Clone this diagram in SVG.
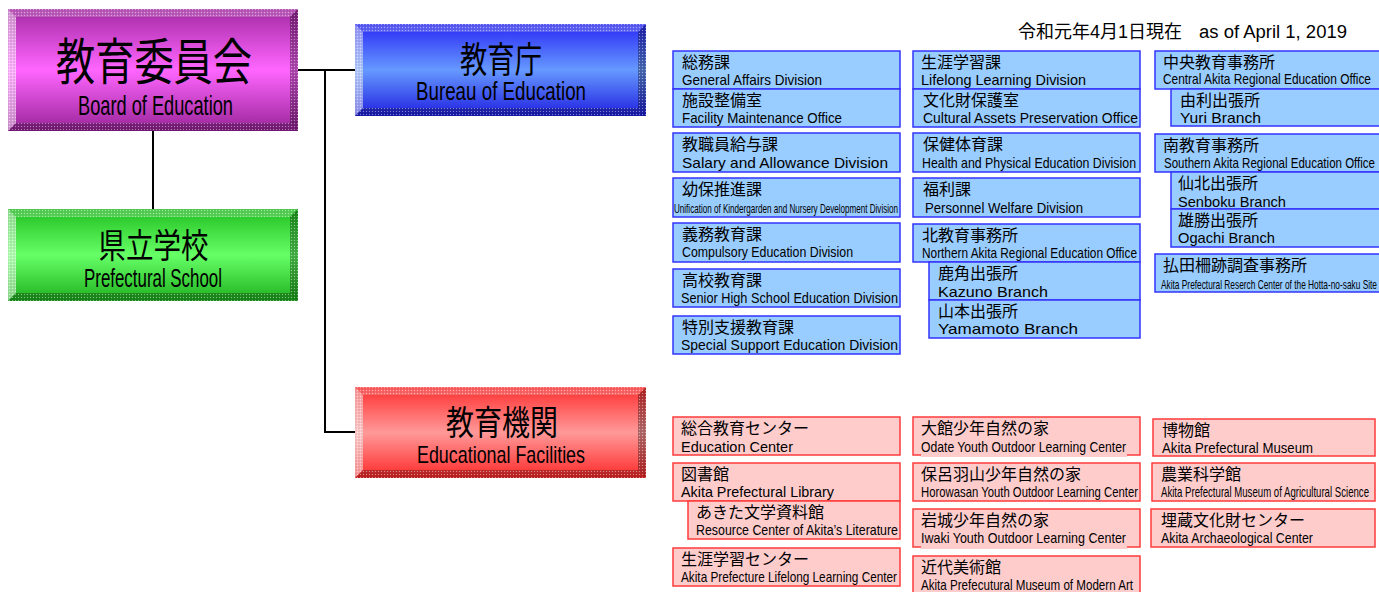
<svg xmlns="http://www.w3.org/2000/svg" width="1379" height="592" viewBox="0 0 1379 592">
<defs>
<style>
.sb{fill:#99ccff;stroke:#3333ff;stroke-width:1.5}
.sr{fill:#ffcccc;stroke:#ff3b3b;stroke-width:1.5}
.jp{font-family:"Noto Sans CJK JP","Noto Sans CJK SC",sans-serif;font-size:16px;fill:#000}
.en{font-family:"Liberation Sans",Arial,sans-serif;font-size:15px;fill:#000}
.ens{font-family:"Liberation Sans",Arial,sans-serif;font-size:13px;fill:#000}
.bj{font-family:"Noto Sans CJK JP","Noto Sans CJK SC",sans-serif;fill:#000;text-anchor:middle}
.be{font-family:"Liberation Sans",Arial,sans-serif;fill:#000;text-anchor:middle}
.conn{stroke:#000;stroke-width:2;fill:none}
.bl{fill:#fff;fill-opacity:.5}
.bt{fill:#fff;fill-opacity:.22}
.br{fill:#000;fill-opacity:.3}
.bb{fill:#000;fill-opacity:.25}
.dz{fill:url(#dither)}
.date{font-family:"Liberation Sans",Arial,"Noto Sans CJK JP",sans-serif;font-size:18px;fill:#000}
</style>
<pattern id="dither" width="3" height="3" patternUnits="userSpaceOnUse">
<rect x="0" y="0" width="1" height="1" fill="#fff" fill-opacity=".45"/>
<rect x="1.5" y="1.5" width="1" height="1" fill="#000" fill-opacity=".25"/>
</pattern>
<linearGradient id="gP" x1="0" y1="0" x2="0" y2="1">
<stop offset="0" stop-color="#a52aa5"/><stop offset="0.5" stop-color="#ff66ff"/><stop offset="1" stop-color="#9a249a"/>
</linearGradient>
<linearGradient id="gG" x1="0" y1="0" x2="0" y2="1">
<stop offset="0" stop-color="#22c022"/><stop offset="0.5" stop-color="#66ff66"/><stop offset="1" stop-color="#1fb21f"/>
</linearGradient>
<linearGradient id="gB" x1="0" y1="0" x2="0" y2="1">
<stop offset="0" stop-color="#2a2af5"/><stop offset="0.5" stop-color="#6699ff"/><stop offset="1" stop-color="#2020e0"/>
</linearGradient>
<linearGradient id="gR" x1="0" y1="0" x2="0" y2="1">
<stop offset="0" stop-color="#ff3030"/><stop offset="0.5" stop-color="#ff9999"/><stop offset="1" stop-color="#ff2a2a"/>
</linearGradient>
</defs>
<rect width="1379" height="592" fill="#fff"/>

<g id="connectors">
<path class="conn" d="M298,70 H355"/>
<path class="conn" d="M325,70 V432 H355"/>
<path class="conn" d="M153,131 V209"/>
</g>

<text class="date" x="1018" y="38">令和元年4月1日現在</text>
<text class="date" x="1199" y="38" textLength="148" lengthAdjust="spacingAndGlyphs">as of April 1, 2019</text>

<g id="board">
<rect x="8" y="9" width="290" height="122" fill="url(#gP)"/>
<polygon class="bt" points="8,9 298,9 290,17 16,17"/>
<polygon class="bl" points="8,9 16,17 16,123 8,131"/>
<polygon class="br" points="298,9 298,131 290,123 290,17"/>
<polygon class="bb" points="8,131 298,131 290,123 16,123"/>
<polygon class="dz" points="8,9 298,9 290,17 16,17"/>
<polygon class="dz" points="8,9 16,17 16,123 8,131"/>
<polygon class="dz" points="298,9 298,131 290,123 290,17"/>
<polygon class="dz" points="8,131 298,131 290,123 16,123"/>
<text class="bj" x="154" y="80" font-size="50" textLength="196" lengthAdjust="spacingAndGlyphs">教育委員会</text>
<text class="be" x="155.5" y="115" font-size="28" textLength="155" lengthAdjust="spacingAndGlyphs">Board of Education</text>
</g>

<g id="school">
<rect x="8" y="209" width="290" height="92" fill="url(#gG)"/>
<polygon class="bt" points="8,209 298,209 290,217 16,217"/>
<polygon class="bl" points="8,209 16,217 16,293 8,301"/>
<polygon class="br" points="298,209 298,301 290,293 290,217"/>
<polygon class="bb" points="8,301 298,301 290,293 16,293"/>
<polygon class="dz" points="8,209 298,209 290,217 16,217"/>
<polygon class="dz" points="8,209 16,217 16,293 8,301"/>
<polygon class="dz" points="298,209 298,301 290,293 290,217"/>
<polygon class="dz" points="8,301 298,301 290,293 16,293"/>
<text class="bj" x="153.5" y="258" font-size="34" textLength="110" lengthAdjust="spacingAndGlyphs">県立学校</text>
<text class="be" x="153" y="287" font-size="26" textLength="138" lengthAdjust="spacingAndGlyphs">Prefectural School</text>
</g>

<g id="bureau">
<rect x="355" y="24" width="291" height="92" fill="url(#gB)"/>
<polygon class="bt" points="355,24 646,24 638,32 363,32"/>
<polygon class="bl" points="355,24 363,32 363,108 355,116"/>
<polygon class="br" points="646,24 646,116 638,108 638,32"/>
<polygon class="bb" points="355,116 646,116 638,108 363,108"/>
<polygon class="dz" points="355,24 646,24 638,32 363,32"/>
<polygon class="dz" points="355,24 363,32 363,108 355,116"/>
<polygon class="dz" points="646,24 646,116 638,108 638,32"/>
<polygon class="dz" points="355,116 646,116 638,108 363,108"/>
<text class="bj" x="501" y="72.5" font-size="36" textLength="82" lengthAdjust="spacingAndGlyphs">教育庁</text>
<text class="be" x="501" y="100" font-size="25" textLength="170" lengthAdjust="spacingAndGlyphs">Bureau of Education</text>
</g>

<g id="facilities">
<rect x="355" y="387" width="291" height="91" fill="url(#gR)"/>
<polygon class="bt" points="355,387 646,387 638,395 363,395"/>
<polygon class="bl" points="355,387 363,395 363,470 355,478"/>
<polygon class="br" points="646,387 646,478 638,470 638,395"/>
<polygon class="bb" points="355,478 646,478 638,470 363,470"/>
<polygon class="dz" points="355,387 646,387 638,395 363,395"/>
<polygon class="dz" points="355,387 363,395 363,470 355,478"/>
<polygon class="dz" points="646,387 646,478 638,470 638,395"/>
<polygon class="dz" points="355,478 646,478 638,470 363,470"/>
<text class="bj" x="502" y="435" font-size="34" textLength="112" lengthAdjust="spacingAndGlyphs">教育機関</text>
<text class="be" x="501" y="463" font-size="24" textLength="168" lengthAdjust="spacingAndGlyphs">Educational Facilities</text>
</g>

<!-- Bureau column 1 -->
<g id="b-soumu"><rect class="sb" x="673" y="51" width="227" height="38"/><text class="jp" x="682" y="68">総務課</text><text class="en" x="682" y="85" textLength="140" lengthAdjust="spacingAndGlyphs">General Affairs Division</text></g>
<g id="b-shisetsu"><rect class="sb" x="673" y="89" width="227" height="38"/><text class="jp" x="682" y="106">施設整備室</text><text class="en" x="682" y="123" textLength="160" lengthAdjust="spacingAndGlyphs">Facility Maintenance Office</text></g>
<g id="b-kyushoku"><rect class="sb" x="673" y="133" width="227" height="39"/><text class="jp" x="682" y="150">教職員給与課</text><text class="en" x="682" y="168" textLength="206" lengthAdjust="spacingAndGlyphs">Salary and Allowance Division</text></g>
<g id="b-youho"><rect class="sb" x="673" y="178" width="227" height="39"/><text class="jp" x="682" y="195">幼保推進課</text><text class="ens" x="674" y="213" textLength="224" lengthAdjust="spacingAndGlyphs">Unification of Kindergarden and Nursery Development Division</text></g>
<g id="b-gimu"><rect class="sb" x="673" y="223" width="227" height="39"/><text class="jp" x="682" y="240">義務教育課</text><text class="en" x="682" y="257" textLength="171" lengthAdjust="spacingAndGlyphs">Compulsory Education Division</text></g>
<g id="b-koukou"><rect class="sb" x="673" y="269" width="227" height="38"/><text class="jp" x="682" y="286">高校教育課</text><text class="en" x="681" y="303" textLength="217" lengthAdjust="spacingAndGlyphs">Senior High School Education Division</text></g>
<g id="b-tokubetsu"><rect class="sb" x="673" y="316" width="227" height="38"/><text class="jp" x="682" y="333">特別支援教育課</text><text class="en" x="681" y="350" textLength="217" lengthAdjust="spacingAndGlyphs">Special Support Education Division</text></g>

<!-- Bureau column 2 -->
<g id="b-shougai"><rect class="sb" x="913" y="51" width="227" height="38"/><text class="jp" x="921" y="68">生涯学習課</text><text class="en" x="921" y="85" textLength="165" lengthAdjust="spacingAndGlyphs">Lifelong Learning Division</text></g>
<g id="b-bunkazai"><rect class="sb" x="913" y="89" width="227" height="38"/><text class="jp" x="923" y="106">文化財保護室</text><text class="en" x="923" y="123" textLength="215" lengthAdjust="spacingAndGlyphs">Cultural Assets Preservation Office</text></g>
<g id="b-hoken"><rect class="sb" x="913" y="133" width="227" height="39"/><text class="jp" x="923" y="150">保健体育課</text><text class="en" x="922" y="168" textLength="214" lengthAdjust="spacingAndGlyphs">Health and Physical Education Division</text></g>
<g id="b-fukuri"><rect class="sb" x="913" y="178" width="227" height="39"/><text class="jp" x="923" y="195">福利課</text><text class="en" x="925" y="213" textLength="158" lengthAdjust="spacingAndGlyphs">Personnel Welfare Division</text></g>
<g id="b-kita"><rect class="sb" x="913" y="224" width="227" height="38"/><text class="jp" x="922" y="241">北教育事務所</text><text class="en" x="922" y="258" textLength="215" lengthAdjust="spacingAndGlyphs">Northern Akita Regional Education Office</text></g>
<g id="b-kazuno"><rect class="sb" x="929" y="262" width="211" height="38"/><text class="jp" x="938" y="279">鹿角出張所</text><text class="en" x="938" y="297" textLength="110" lengthAdjust="spacingAndGlyphs">Kazuno Branch</text></g>
<g id="b-yamamoto"><rect class="sb" x="929" y="300" width="211" height="38"/><text class="jp" x="938" y="317">山本出張所</text><text class="en" x="938" y="334" textLength="140" lengthAdjust="spacingAndGlyphs">Yamamoto Branch</text></g>

<!-- Bureau column 3 -->
<g id="b-chuou"><rect class="sb" x="1155" y="51" width="235" height="38"/><text class="jp" x="1163" y="68">中央教育事務所</text><text class="en" x="1163" y="84" textLength="208" lengthAdjust="spacingAndGlyphs">Central Akita Regional Education Office</text></g>
<g id="b-yuri"><rect class="sb" x="1171" y="89" width="219" height="37"/><text class="jp" x="1180" y="106">由利出張所</text><text class="en" x="1180" y="123" textLength="81" lengthAdjust="spacingAndGlyphs">Yuri Branch</text></g>
<g id="b-minami"><rect class="sb" x="1155" y="134" width="235" height="38"/><text class="jp" x="1163" y="151">南教育事務所</text><text class="en" x="1164" y="168" textLength="211" lengthAdjust="spacingAndGlyphs">Southern Akita Regional Education Office</text></g>
<g id="b-senboku"><rect class="sb" x="1171" y="172" width="219" height="37"/><text class="jp" x="1178" y="189">仙北出張所</text><text class="en" x="1178" y="207" textLength="108" lengthAdjust="spacingAndGlyphs">Senboku Branch</text></g>
<g id="b-ogachi"><rect class="sb" x="1171" y="209" width="219" height="38"/><text class="jp" x="1178" y="226">雄勝出張所</text><text class="en" x="1178" y="243" textLength="97" lengthAdjust="spacingAndGlyphs">Ogachi Branch</text></g>
<g id="b-hotta"><rect class="sb" x="1155" y="254" width="235" height="38"/><text class="jp" x="1163" y="271">払田柵跡調査事務所</text><text class="ens" x="1161" y="289" textLength="216" lengthAdjust="spacingAndGlyphs">Akita Prefectural Reserch Center of the Hotta-no-saku Site</text></g>

<!-- Facilities column 1 -->
<g id="f-sougou"><rect class="sr" x="673" y="417" width="227" height="38"/><text class="jp" x="681" y="434">総合教育センター</text><text class="en" x="681" y="452" textLength="112" lengthAdjust="spacingAndGlyphs">Education Center</text></g>
<g id="f-tosho"><rect class="sr" x="673" y="463" width="227" height="38"/><text class="jp" x="681" y="480">図書館</text><text class="en" x="681" y="497" textLength="153" lengthAdjust="spacingAndGlyphs">Akita Prefectural Library</text></g>
<g id="f-bungaku"><rect class="sr" x="688" y="501" width="212" height="38"/><text class="jp" x="696" y="518">あきた文学資料館</text><text class="en" x="696" y="535" textLength="202" lengthAdjust="spacingAndGlyphs">Resource Center of Akita’s Literature</text></g>
<g id="f-shougai"><rect class="sr" x="673" y="548" width="227" height="38"/><text class="jp" x="681" y="565">生涯学習センター</text><text class="en" x="681" y="582" textLength="216" lengthAdjust="spacingAndGlyphs">Akita Prefecture Lifelong Learning Center</text></g>

<!-- Facilities column 2 -->
<g id="f-odate"><rect class="sr" x="913" y="417" width="227" height="38"/><rect x="921" y="453" width="206" height="4" fill="#ffcccc"/><text class="jp" x="921" y="434">大館少年自然の家</text><text class="en" x="921" y="452" textLength="205" lengthAdjust="spacingAndGlyphs">Odate Youth Outdoor Learning Center</text></g>
<g id="f-horowa"><rect class="sr" x="913" y="463" width="227" height="38"/><text class="jp" x="921" y="480">保呂羽山少年自然の家</text><text class="en" x="921" y="497" textLength="217" lengthAdjust="spacingAndGlyphs">Horowasan Youth Outdoor Learning Center</text></g>
<g id="f-iwaki"><rect class="sr" x="913" y="509" width="227" height="38"/><rect x="921" y="545" width="206" height="4" fill="#ffcccc"/><text class="jp" x="921" y="526">岩城少年自然の家</text><text class="en" x="921" y="543" textLength="205" lengthAdjust="spacingAndGlyphs">Iwaki Youth Outdoor Learning Center</text></g>
<g id="f-bijutsu"><rect class="sr" x="913" y="556" width="227" height="42"/><text class="jp" x="921" y="573">近代美術館</text><text class="en" x="921" y="590" textLength="212" lengthAdjust="spacingAndGlyphs">Akita Prefecutural Museum of Modern Art</text></g>

<!-- Facilities column 3 -->
<g id="f-hakubutsu"><rect class="sr" x="1153" y="419" width="222" height="37"/><text class="jp" x="1162" y="436">博物館</text><text class="en" x="1162" y="453" textLength="151" lengthAdjust="spacingAndGlyphs">Akita Prefectural Museum</text></g>
<g id="f-nougyou"><rect class="sr" x="1152" y="463" width="223" height="38"/><text class="jp" x="1161" y="480">農業科学館</text><text class="en" x="1161" y="497" textLength="208" lengthAdjust="spacingAndGlyphs">Akita Prefectural Museum of Agricultural Science</text></g>
<g id="f-maizou"><rect class="sr" x="1151" y="509" width="224" height="38"/><text class="jp" x="1161" y="526">埋蔵文化財センター</text><text class="en" x="1161" y="543" textLength="152" lengthAdjust="spacingAndGlyphs">Akita Archaeological Center</text></g>
</svg>
